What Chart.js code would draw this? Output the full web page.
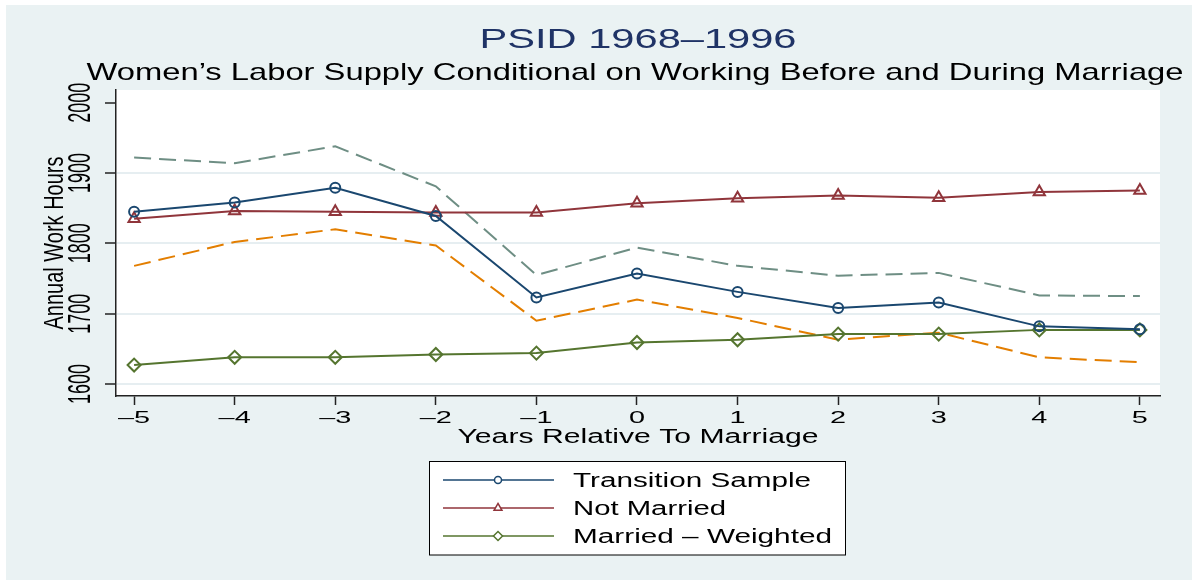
<!DOCTYPE html>
<html>
<head>
<meta charset="utf-8">
<script src="https://cdn.jsdelivr.net/npm/chart.js@4.4.1/dist/chart.umd.min.js"></script>
<style>
  html, body { margin: 0; padding: 0; background: #fff; }
  #wrap { width: 1192px; height: 580px; }
</style>
</head>
<body>
<div id="wrap"><canvas id="c" width="1192" height="580"></canvas></div>
<script>
// values
const years = [-5, -4, -3, -2, -1, 0, 1, 2, 3, 4, 5];
const transition = [1845, 1858, 1879, 1839, 1723, 1757, 1731, 1708, 1716, 1682, 1678];
const notMarried = [1835, 1846, 1845, 1844, 1844, 1857, 1864, 1868, 1865, 1873, 1875];
const marriedW   = [1627, 1638, 1638, 1642, 1644, 1659, 1663, 1671, 1671, 1677, 1677];
const upperBand  = [1922, 1914, 1938, 1881, 1755, 1794, 1768, 1754, 1758, 1726, 1725];
const lowerBand  = [1768, 1802, 1820, 1797, 1690, 1720, 1694, 1663, 1673, 1638, 1631];
const yTicks = [1600, 1700, 1800, 1900, 2000];
const xTicks = years;

const titleText = 'PSID 1968\u20131996';
const subtitleText = 'Women\u2019s Labor Supply Conditional on Working Before and During Marriage';
const xTitle = 'Years Relative To Marriage';
const yTitle = 'Annual Work Hours';
const legendLabels = ['Transition Sample', 'Not Married', 'Married \u2013 Weighted'];

const FONT = '"Liberation Sans", Arial, sans-serif';
const navy = '#1a476f', maroon = '#90353b', green = '#55752f', orange = '#e37e00', teal = '#6e8e84';

const pts = arr => arr.map((v, i) => ({ x: years[i], y: v }));

function stretchText(ctx, text, x, y, size, sx, color, align, rotated) {
  ctx.save();
  ctx.font = size + 'px ' + FONT;
  ctx.fillStyle = color;
  ctx.textAlign = align || 'center';
  ctx.textBaseline = 'alphabetic';
  ctx.translate(x, y);
  ctx.scale(sx, 1);
  if (rotated) ctx.rotate(-Math.PI / 2);
  ctx.fillText(text, 0, 0);
  ctx.restore();
}
function fitX(ctx, text, size, width) {
  ctx.font = size + 'px ' + FONT;
  return width / ctx.measureText(text).width;
}

const background = {
  id: 'background',
  beforeDraw(chart) {
    const ctx = chart.ctx, a = chart.chartArea;
    ctx.save();
    ctx.fillStyle = '#ffffff';
    ctx.fillRect(0, 0, chart.width, chart.height);
    ctx.fillStyle = '#eaf2f3';
    ctx.fillRect(6, 5, chart.width - 6, chart.height - 5);
    ctx.fillStyle = '#ffffff';
    ctx.fillRect(a.left, a.top, a.right - a.left, a.bottom - a.top);
    ctx.restore();
  }
};

const labels = {
  id: 'labels',
  afterDraw(chart) {
    const ctx = chart.ctx;
    const xs = chart.scales.x, ys = chart.scales.y;
    const cx = (chart.chartArea.left + chart.chartArea.right) / 2;
    const cy = (chart.chartArea.top + chart.chartArea.bottom) / 2;

    stretchText(ctx, titleText, cx, 48, 28, fitX(ctx, titleText, 28, 317), '#1f3366');
    stretchText(ctx, subtitleText, cx - 3, 80, 24, fitX(ctx, subtitleText, 24, 1097), '#000');

    // y tick labels, rotated like the original
    yTicks.forEach(v => {
      stretchText(ctx, String(v), 90, ys.getPixelForValue(v), 18, 1.7, '#000', 'center', true);
    });
    stretchText(ctx, yTitle, 63, cy, 20, 1.38, '#000', 'center', true);

    // x tick labels
    xTicks.forEach(v => {
      const t = v < 0 ? '\u2013' + Math.abs(v) : String(v);
      stretchText(ctx, t, xs.getPixelForValue(v), 423, 16.5, 1.75, '#000');
    });
    stretchText(ctx, xTitle, cx, 443, 20, fitX(ctx, xTitle, 20, 361), '#000');

    // legend box
    ctx.save();
    ctx.fillStyle = '#fff';
    ctx.fillRect(429.5, 461.5, 416, 93.5);
    ctx.strokeStyle = '#000';
    ctx.lineWidth = 1;
    ctx.strokeRect(429.5, 461.5, 416, 93.5);
    ctx.restore();

    const widths = [238, 153, 259];
    legendLabels.forEach((lab, i) => {
      const ds = chart.data.datasets[i];
      const y = 480 + i * 28;
      ctx.save();
      ctx.strokeStyle = ds.borderColor;
      ctx.lineWidth = 1.5;
      ctx.beginPath();
      ctx.moveTo(443, y);
      ctx.lineTo(554, y);
      ctx.stroke();
      ctx.fillStyle = '#fff';
      ctx.lineWidth = 1.5;
      Chart.helpers.drawPoint(ctx, {
        pointStyle: ds.pointStyle,
        radius: ds.pointRadius * 0.7,
        rotation: 0,
        borderWidth: 1.5
      }, 498, y);
      ctx.restore();
      stretchText(ctx, lab, 573, y + 7, 19.5, fitX(ctx, lab, 19.5, widths[i]), '#000', 'left');
    });
  }
};

new Chart(document.getElementById('c'), {
  type: 'line',
  data: {
    datasets: [
      { label: legendLabels[0], data: pts(transition), borderColor: navy, borderWidth: 2,
        pointStyle: 'circle', pointRadius: 5, pointBorderWidth: 2, pointBorderColor: navy,
        pointBackgroundColor: 'rgba(255,255,255,0)' },
      { label: legendLabels[1], data: pts(notMarried), borderColor: maroon, borderWidth: 2,
        pointStyle: 'triangle', pointRadius: 6.5, pointBorderWidth: 2, pointBorderColor: maroon,
        pointBackgroundColor: 'rgba(255,255,255,0)' },
      { label: legendLabels[2], data: pts(marriedW), borderColor: green, borderWidth: 2,
        pointStyle: 'rectRot', pointRadius: 6.5, pointBorderWidth: 2, pointBorderColor: green,
        pointBackgroundColor: 'rgba(255,255,255,0)' },
      { label: 'upper', data: pts(upperBand), borderColor: teal, borderWidth: 2,
        borderDash: [17, 8], pointRadius: 0 },
      { label: 'lower', data: pts(lowerBand), borderColor: orange, borderWidth: 2,
        borderDash: [17, 8], pointRadius: 0 }
    ]
  },
  options: {
    responsive: false,
    animation: false,
    devicePixelRatio: 1,
    layout: { padding: { left: 105, right: 32, top: 90, bottom: 175 } },
    plugins: { legend: { display: false }, title: { display: false }, tooltip: { enabled: false } },
    elements: { line: { tension: 0 } },
    scales: {
      x: {
        type: 'linear', min: -5.18, max: 5.2,
        afterBuildTicks: axis => { axis.ticks = xTicks.map(v => ({ value: v })); },
        ticks: { display: false },
        grid: { display: true, color: 'rgba(0,0,0,0)', drawTicks: true, tickLength: 9,
                tickColor: '#222', tickWidth: 1.5 },
        border: { display: true, color: '#222', width: 1.5 }
      },
      y: {
        type: 'linear', min: 1583, max: 2018,
        afterBuildTicks: axis => { axis.ticks = yTicks.map(v => ({ value: v })); },
        ticks: { display: false },
        grid: { display: true, lineWidth: 2, drawTicks: true, tickLength: 11,
                color: c => (c.tick && c.tick.value === 2000 ? 'rgba(0,0,0,0)' : '#e6eef1'),
                tickColor: '#222', tickWidth: 1.5 },
        border: { display: true, color: '#222', width: 1.5 }
      }
    }
  },
  plugins: [background, labels]
});
</script>
</body>
</html>
